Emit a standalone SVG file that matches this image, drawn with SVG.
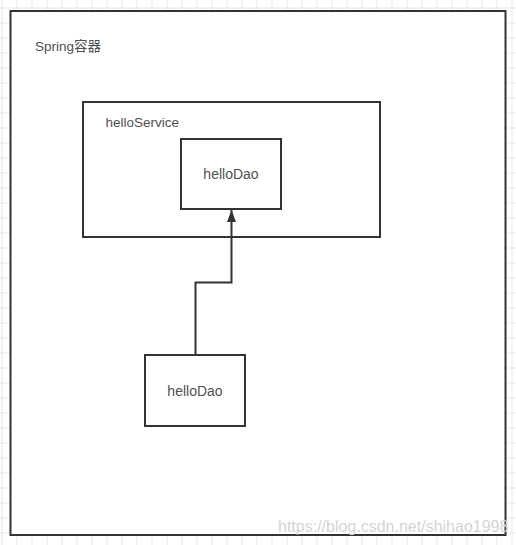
<svg xmlns="http://www.w3.org/2000/svg" width="516" height="545" viewBox="0 0 516 545">
<defs>
<pattern id="grid" x="1.5" y="7.5" width="15" height="15" patternUnits="userSpaceOnUse">
<path d="M0.5 0V15M0 0.5H15" fill="none" stroke="#e6e6e6" stroke-width="1"/>
</pattern>
<marker id="arrow" viewBox="0 0 12 10" refX="12" refY="5" markerWidth="12" markerHeight="10" markerUnits="userSpaceOnUse" orient="auto">
<path d="M0 0.5L12 5L0 9.5Z" fill="#333"/>
</marker>
<style>
.box{fill:#fff;stroke:#333;stroke-width:2}
.lbl{font-family:"Liberation Sans","Noto Sans CJK SC",sans-serif;fill:#505050}
.wm{font-family:"Liberation Sans",Arial,sans-serif;font-size:16px;fill:#d4d4d4}
</style>
</defs>
<rect width="516" height="545" fill="#fff"/>
<rect width="516" height="545" fill="url(#grid)"/>
<g id="spring-container">
<rect class="box" x="10.5" y="11" width="495" height="524"/>
<text class="lbl" x="35" y="51" font-size="13.5">Spring容器</text>
</g>
<g id="helloService">
<rect class="box" x="83" y="102" width="297" height="135"/>
<text class="lbl" x="105.5" y="127" font-size="13.5">helloService</text>
</g>
<g id="helloDao-inner">
<rect class="box" x="181" y="139" width="100" height="70"/>
<text class="lbl" x="231" y="179" font-size="14" text-anchor="middle">helloDao</text>
</g>
<g id="helloDao-outer">
<rect class="box" x="145" y="355" width="100" height="71"/>
<text class="lbl" x="195" y="396" font-size="14" text-anchor="middle">helloDao</text>
</g>
<g id="connectors">
<path d="M195.5 355V282.5H231.5V210" fill="none" stroke="#333" stroke-width="2" marker-end="url(#arrow)"/>
</g>
<text class="wm" x="278" y="532">https://blog.csdn.net/shihao1998</text>
</svg>
